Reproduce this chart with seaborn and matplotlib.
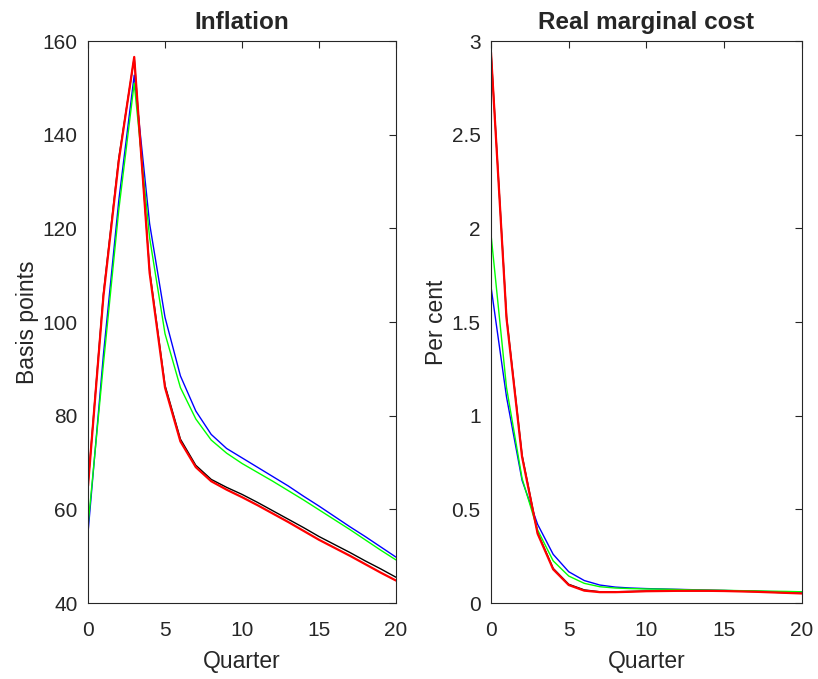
import numpy as np
import pandas as pd
import seaborn as sns
import matplotlib
matplotlib.use('Agg')
import matplotlib.pyplot as plt

# quarters after the shock
quarters = list(range(21))

# inflation response, basis points
infl_black = [65.3, 106, 135, 156.4, 111, 86.5, 75, 69.4, 66.4, 64.7, 63.2,
              61.5, 59.7, 57.9, 56.1, 54.2, 52.5, 50.8, 49.0, 47.3, 45.5]
infl_blue = [55, 93, 126, 152.7, 121, 101, 88.5, 81, 76, 73, 71,
             69, 67, 65, 62.8, 60.7, 58.5, 56.3, 54.2, 52, 49.8]
infl_green = [56.5, 91, 124, 151, 118, 97.5, 86, 79.3, 74.8, 72, 69.8,
              67.9, 66, 64, 62, 59.9, 57.8, 55.7, 53.5, 51.3, 49.2]
infl_red = [65, 105.5, 134.5, 156.6, 110.5, 86, 74.5, 69, 66, 64.2, 62.6,
            60.9, 59.1, 57.3, 55.4, 53.5, 51.8, 50.1, 48.3, 46.5, 44.8]

# real marginal cost response, per cent
rmc_black = [2.95, 1.53, 0.79, 0.375, 0.185, 0.1, 0.07, 0.06, 0.06, 0.062, 0.064,
             0.065, 0.066, 0.066, 0.066, 0.065, 0.063, 0.061, 0.058, 0.055, 0.052]
rmc_blue = [1.69, 1.10, 0.655, 0.42, 0.26, 0.167, 0.12, 0.096, 0.085, 0.08, 0.077,
            0.075, 0.073, 0.071, 0.069, 0.067, 0.065, 0.063, 0.061, 0.06, 0.058]
rmc_green = [1.97, 1.15, 0.665, 0.39, 0.225, 0.144, 0.105, 0.087, 0.08, 0.077, 0.075,
             0.074, 0.072, 0.07, 0.069, 0.068, 0.066, 0.065, 0.063, 0.062, 0.06]
rmc_red = [2.94, 1.52, 0.78, 0.37, 0.18, 0.096, 0.066, 0.058, 0.058, 0.06, 0.063,
           0.064, 0.065, 0.065, 0.065, 0.064, 0.062, 0.06, 0.057, 0.054, 0.051]

sns.set_style('white')
plt.rcParams['font.family'] = ['Liberation Sans', 'DejaVu Sans']

fig = plt.figure(figsize=(8.18, 6.79), dpi=100)
ax1 = fig.add_axes([0.1076, 0.1119, 0.3765, 0.8277])
ax2 = fig.add_axes([0.6002, 0.1119, 0.3802, 0.8277])

# series drawn in this order, red last so it sits on top of black
styles = [('black', 'k', 1.0), ('blue', '#0000ff', 1.0),
          ('green', '#00ff00', 1.0), ('red', '#ff0000', 1.6)]

panels = [
    (ax1, [infl_black, infl_blue, infl_green, infl_red], 'Inflation', 'Basis points'),
    (ax2, [rmc_black, rmc_blue, rmc_green, rmc_red], 'Real marginal cost', 'Per cent'),
]

for ax, series, title, ylabel in panels:
    for (name, col, lw), vals in zip(styles, series):
        df = pd.DataFrame({'quarter': quarters, 'value': vals})
        sns.lineplot(data=df, x='quarter', y='value', color=col, linewidth=lw, ax=ax)
    ax.set_xlim(0, 20)
    ax.set_xticks([0, 5, 10, 15, 20])
    ax.set_title(title, fontsize=17.5, fontweight='bold', pad=9)
    ax.set_xlabel('Quarter', fontsize=16.5, color='#262626', labelpad=7)
    ax.set_ylabel(ylabel, fontsize=16.5, color='#262626', labelpad=2.5)
    ax.tick_params(direction='in', top=True, right=True, length=5, width=0.8,
                   labelsize=15, colors='#262626')
    ax.tick_params(axis='x', pad=13)
    ax.tick_params(axis='y', pad=7.5)
    for sp in ax.spines.values():
        sp.set_visible(True)
        sp.set_color('#262626')
        sp.set_linewidth(0.8)

ax1.set_ylim(40, 160)
ax1.set_yticks([40, 60, 80, 100, 120, 140, 160])
ax2.set_ylim(0, 3)
ax2.set_yticks([0, 0.5, 1, 1.5, 2, 2.5, 3])
ax2.set_yticklabels(['0', '0.5', '1', '1.5', '2', '2.5', '3'])

fig.savefig('out.png', dpi=100, facecolor='white')
